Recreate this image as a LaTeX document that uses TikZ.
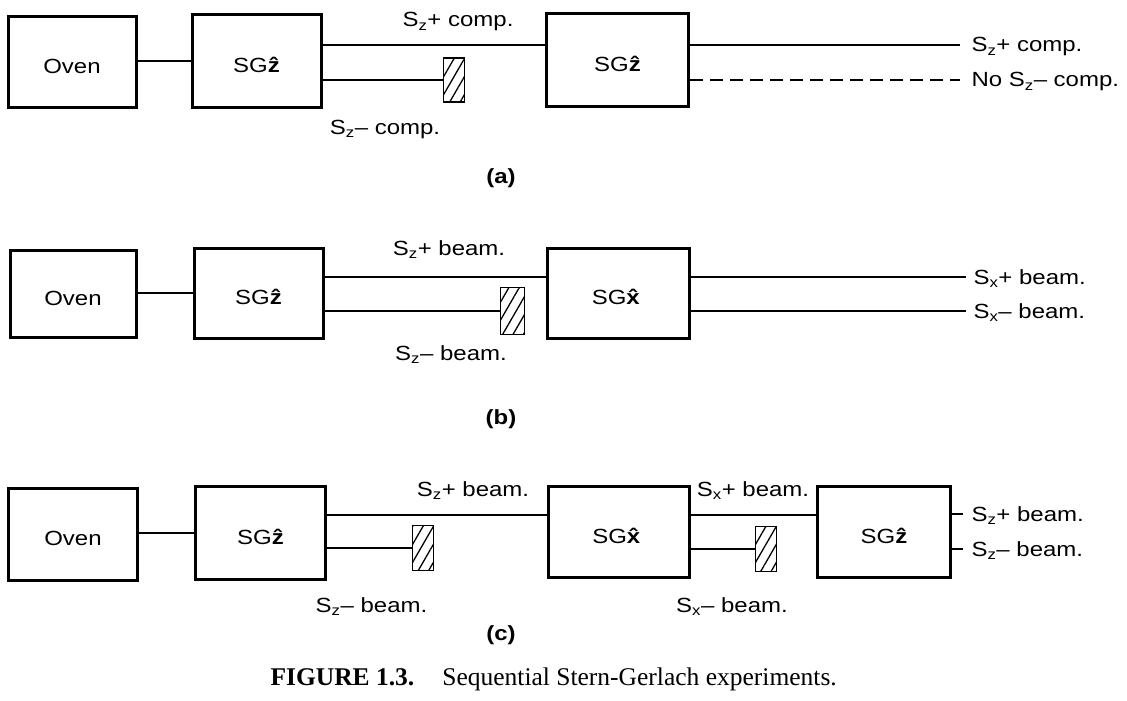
\documentclass[tikz,border=0pt]{standalone}
\usepackage{fontspec}
\setmainfont[FakeStretch=1.17]{Liberation Sans}
\newfontfamily\capfont{Liberation Serif}
\usepackage{tikz}
\usetikzlibrary{patterns.meta,positioning}

\newcommand{\Sz}{S\textsubscript{z}}
\newcommand{\Sx}{S\textsubscript{x}}
\newcommand{\zhat}{\textbf{\^z}}
\newcommand{\xhat}{\textbf{\^x}}

\begin{document}
\begin{tikzpicture}[x=1pt, y=-1pt, font=\fontsize{20.5}{24}\selectfont,
    box/.style={rectangle, draw, line width=3pt, inner sep=0pt,
        text height=23pt, text depth=0pt},
    blocker/.style={rectangle, draw, line width=1.8pt, inner sep=0pt,
        pattern={Lines[angle=60, distance=9pt, line width=1.3pt]}},
    beam/.style={line width=1.8pt},
    lbl/.style={anchor=base}]
    \useasboundingbox (0,0) rectangle (1127,701);

    % (a)
    \node (ovenA) [box, minimum width=128, minimum height=91] at (72,62) {Oven};
    \node (sgA1) [box, minimum width=129, minimum height=93] at (256.5,61) {SG\zhat};
    \node (blkA) [blocker, minimum width=21, minimum height=44] at (454,80) {};
    \node (sgA2) [box, minimum width=142, minimum height=92] at (617.5,60) {SG\zhat};
    \coordinate (endA1) at (960,45);
    \coordinate (endA2) at (960,80);
    \draw[beam] (ovenA.east |- sgA1.west) -- (sgA1.west);
    \draw[beam] ([yshift=16]sgA1.east) -- ([yshift=16]sgA1.east -| sgA2.west);
    \draw[beam] ([yshift=-19]sgA1.east) -- (blkA);
    \draw[beam] ([yshift=15]sgA2.east) -- (endA1);
    \draw[beam, dash pattern=on 13pt off 7pt] ([yshift=-20]sgA2.east) -- (endA2);
    \node (lblA1) [lbl] at (458,27) {\Sz+ comp.};
    \node (lblA2) [lbl] at (385,134) {\Sz\textendash{} comp.};
    \node (lblA3) [anchor=base west] at (968,52) {\Sz+ comp.};
    \node (lblA4) [anchor=base west] at (968,87) {No \Sz\textendash{} comp.};
    \node (capA) [lbl] at (501,183) {\textbf{(a)}};

    % (b)
    \node (ovenB) [box, minimum width=126, minimum height=87] at (73,294) {Oven};
    \node (sgB1) [box, minimum width=129, minimum height=90] at (258.5,293) {SG\zhat};
    \node (blkB) [blocker, minimum width=24, minimum height=47] at (512.5,311) {};
    \node (sgB2) [box, minimum width=142, minimum height=90] at (618,293) {SG\xhat};
    \coordinate (endB1) at (966,277);
    \coordinate (endB2) at (966,311);
    \draw[beam] (ovenB.east |- sgB1.west) -- (sgB1.west);
    \draw[beam] ([yshift=16]sgB1.east) -- ([yshift=16]sgB1.east -| sgB2.west);
    \draw[beam] ([yshift=-18]sgB1.east) -- (blkB);
    \draw[beam] ([yshift=16]sgB2.east) -- (endB1);
    \draw[beam] ([yshift=-18]sgB2.east) -- (endB2);
    \node (lblB1) [lbl] at (449,255) {\Sz+ beam.};
    \node (lblB2) [lbl] at (451,360) {\Sz\textendash{} beam.};
    \node (lblB3) [anchor=base west] at (970,284) {\Sx+ beam.};
    \node (lblB4) [anchor=base west] at (970,318) {\Sx\textendash{} beam.};
    \node (capB) [lbl] at (501,424) {\textbf{(b)}};

    % (c)
    \node (ovenC) [box, minimum width=129, minimum height=92] at (73,534) {Oven};
    \node (sgC1) [box, minimum width=130, minimum height=93] at (260.5,533) {SG\zhat};
    \node (blkC1) [blocker, minimum width=21, minimum height=45] at (423,548) {};
    \node (sgC2) [box, minimum width=141, minimum height=91] at (618.5,532) {SG\xhat};
    \node (blkC2) [blocker, minimum width=21, minimum height=45] at (766,549) {};
    \node (sgC3) [box, minimum width=133, minimum height=91] at (884,532) {SG\zhat};
    \coordinate (endC1) at (963,514);
    \coordinate (endC2) at (963,549);
    \draw[beam] (ovenC.east |- sgC1.west) -- (sgC1.west);
    \draw[beam] ([yshift=18]sgC1.east) -- ([yshift=18]sgC1.east -| sgC2.west);
    \draw[beam] ([yshift=-15]sgC1.east) -- (blkC1);
    \draw[beam] ([yshift=17]sgC2.east) -- ([yshift=17]sgC2.east -| sgC3.west);
    \draw[beam] ([yshift=-17]sgC2.east) -- (blkC2);
    \draw[beam] ([yshift=18]sgC3.east) -- (endC1);
    \draw[beam] ([yshift=-17]sgC3.east) -- (endC2);
    \node (lblC1) [lbl] at (473,496) {\Sz+ beam.};
    \node (lblC2) [lbl] at (371.5,612) {\Sz\textendash{} beam.};
    \node (lblC3) [lbl] at (753,496) {\Sx+ beam.};
    \node (lblC4) [lbl] at (732,612) {\Sx\textendash{} beam.};
    \node (lblC5) [anchor=base west] at (968,521) {\Sz+ beam.};
    \node (lblC6) [anchor=base west] at (968,556) {\Sz\textendash{} beam.};
    \node (capC) [lbl] at (501,640) {\textbf{(c)}};

    \node (caption) [anchor=base west] at (267,685) {\capfont\fontsize{25.5}{28}\selectfont\textbf{FIGURE 1.3.}\hspace{1.1em}Sequential Stern-Gerlach experiments.};
\end{tikzpicture}
\end{document}
